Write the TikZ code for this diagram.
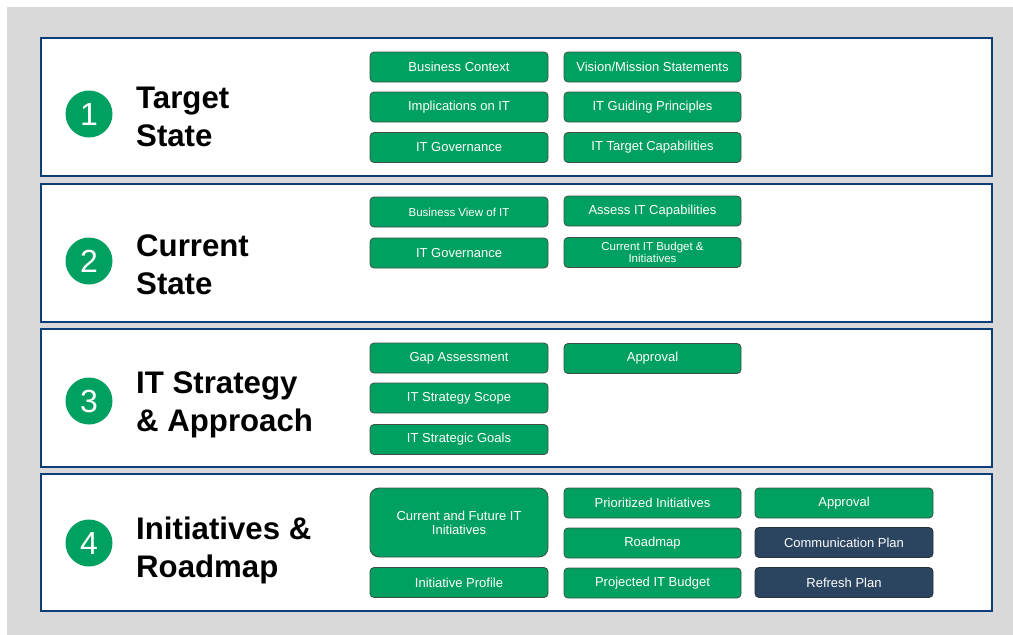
\documentclass[tikz,border=0pt]{standalone}
\usepackage{fontspec}
\setmainfont{Liberation Sans}
\definecolor{bggray}{RGB}{217,217,217}
\definecolor{panelblue}{RGB}{12,62,120}
\definecolor{boxgreen}{RGB}{0,161,96}
\definecolor{boxedge}{RGB}{60,80,70}
\definecolor{boxdark}{RGB}{43,69,96}
\definecolor{darkedge}{RGB}{40,50,60}
\tikzset{
  panel/.style={draw=panelblue, line width=2.6pt, fill=white},
  numcirc/.style={circle, fill=boxgreen, minimum size=47pt, inner sep=0pt, text=white, font=\fontsize{32}{32}\selectfont},
  title/.style={anchor=west, align=left, font=\fontsize{31.2}{38}\selectfont\bfseries, text=black, inner sep=0pt},
  gbox/.style={rectangle, rounded corners=4pt, fill=boxgreen, draw=boxedge, line width=0.8pt, text=white, minimum height=30pt, inner sep=1pt, align=center, font=\fontsize{13}{14}\selectfont},
  c1/.style={gbox, minimum width=178pt},
  c2/.style={gbox, minimum width=177pt},
  c3/.style={gbox, minimum width=178pt},
  dbox/.style={fill=boxdark, draw=darkedge},
  small/.style={font=\fontsize{11.5}{12.5}\selectfont},
}
\begin{document}
\begin{tikzpicture}[x=1pt,y=-1pt]
\useasboundingbox (0,0) rectangle (1013,635);
\fill[white] (0,0) rectangle (1013,635);
\fill[bggray] (7,7) rectangle (1013,635);
% panels
\draw[panel] (41,38) rectangle (992,176);
\draw[panel] (41,184) rectangle (992,322);
\draw[panel] (41,329) rectangle (992,467);
\draw[panel] (41,474) rectangle (992,611);
% numbers
\node[numcirc] (n1) at (89,114) {1};
\node[numcirc] (n2) at (89,261) {2};
\node[numcirc] (n3) at (89,401) {3};
\node[numcirc] (n4) at (89,543) {4};
% titles
\node[title] (t1) at (136,117) {Target\\State};
\node[title] (t2) at (136,265) {Current\\State};
\node[title] (t3) at (136,405) {IT Strategy\\\& Approach};
\node[title] (t4) at (136,550) {Initiatives \&\\Roadmap};
% panel 1
\node[c1] (a1) at (459,67) {Business Context};
\node[c1] (a2) at (459,107) {Implications on IT};
\node[c1] (a3) at (459,147.5) {IT Governance};
\node[c2] (a4) at (652.5,67) {Vision/Mission Statements};
\node[c2] (a5) at (652.5,107) {IT Guiding Principles};
\node[c2] (a6) at (652.5,147.5) {IT Target Capabilities};
% panel 2
\node[c1, small] (b1) at (459,212) {Business View of IT};
\node[c1] (b2) at (459,253) {IT Governance};
\node[c2] (b3) at (652.5,211) {Assess IT Capabilities};
\node[c2, small] (b4) at (652.5,252.5) {Current IT Budget \&\\Initiatives};
% panel 3
\node[c1] (d1) at (459,358) {Gap Assessment};
\node[c1] (d2) at (459,398) {IT Strategy Scope};
\node[c1] (d3) at (459,439.5) {IT Strategic Goals};
\node[c2] (d4) at (652.5,358.5) {Approval};
% panel 4
\node[c1, minimum height=69pt, rounded corners=9pt] (e1) at (459,522.5) {Current and Future IT\\Initiatives};
\node[c1] (e2) at (459,582.5) {Initiative Profile};
\node[c2] (e3) at (652.5,503) {Prioritized Initiatives};
\node[c2] (e4) at (652.5,543) {Roadmap};
\node[c2] (e5) at (652.5,583) {Projected IT Budget};
\node[c3] (e6) at (844,503) {Approval};
\node[c3, dbox] (e7) at (844,542.5) {Communication Plan};
\node[c3, dbox] (e8) at (844,582.5) {Refresh Plan};
\end{tikzpicture}
\end{document}
